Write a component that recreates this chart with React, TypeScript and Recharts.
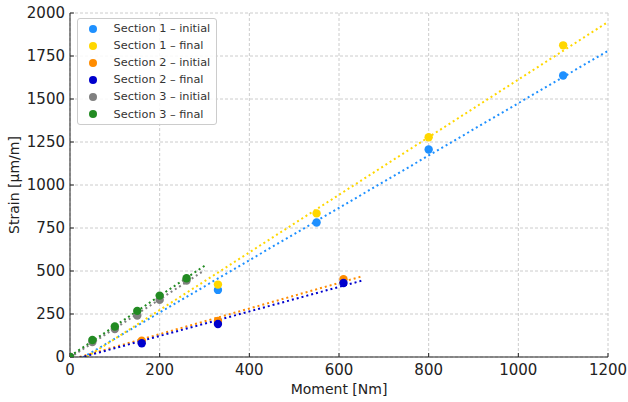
import { ComposedChart, Scatter, Line, XAxis, YAxis, CartesianGrid, Legend } from 'recharts';

const xTicks = [0, 200, 400, 600, 800, 1000, 1200];
const yTicks = [0, 250, 500, 750, 1000, 1250, 1500, 1750, 2000];

// measured points (moment in Nm, strain in µm/m)
const moments1 = [0, 330, 550, 800, 1100];
const s1Initial = [0, 390, 782, 1206, 1637];
const s1Final = [0, 421, 835, 1278, 1812];

const moments2 = [0, 160, 330, 610];
const s2Initial = [0, 95, 210, 452];
const s2Final = [0, 80, 192, 430];

const moments3 = [0, 50, 100, 150, 200, 260];
const s3Initial = [0, 87, 163, 241, 332, 445];
const s3Final = [0, 99, 177, 268, 357, 458];

// trend line ends [start, end]
const fitRange1 = [0, 1200];
const fit1Initial = [-46, 1780];
const fit1Final = [-62, 1948];
const fitRange2 = [0, 650];
const fit2Initial = [-16, 468];
const fit2Final = [-20, 443];
const fitRange3 = [0, 300];
const fit3Initial = [-3, 504];
const fit3Final = [5, 530];

const series = [
  { name: 'Section 1 – initial', color: '#1E90FF', xs: moments1, ys: s1Initial, fx: fitRange1, fy: fit1Initial },
  { name: 'Section 1 – final', color: '#FFD700', xs: moments1, ys: s1Final, fx: fitRange1, fy: fit1Final },
  { name: 'Section 2 – initial', color: '#FF8C00', xs: moments2, ys: s2Initial, fx: fitRange2, fy: fit2Initial },
  { name: 'Section 2 – final', color: '#0000CD', xs: moments2, ys: s2Final, fx: fitRange2, fy: fit2Final },
  { name: 'Section 3 – initial', color: '#808080', xs: moments3, ys: s3Initial, fx: fitRange3, fy: fit3Initial },
  { name: 'Section 3 – final', color: '#228B22', xs: moments3, ys: s3Final, fx: fitRange3, fy: fit3Final },
];

const font = '"DejaVu Sans", sans-serif';

const LegendBox = () => (
  <div
    style={{
      border: '1px solid #cccccc',
      borderRadius: 3,
      background: 'rgba(255,255,255,0.85)',
      padding: '1px 6px 1px 0',
      fontFamily: font,
      fontSize: 11.3,
      color: '#333',
    }}
  >
    {series.map((s) => (
      <div key={s.name} style={{ display: 'flex', alignItems: 'center', height: 17.1, whiteSpace: 'nowrap' }}>
        <svg width={8} height={8} style={{ marginLeft: 10.6, marginRight: 17 }}>
          <circle cx={4} cy={4} r={4} fill={s.color} />
        </svg>
        <span>{s.name}</span>
      </div>
    ))}
  </div>
);

export default function App() {
  return (
    <div style={{ position: 'absolute', left: 0, top: 0, background: '#fff' }}>
      <ComposedChart width={628} height={402} margin={{ top: 13, right: 20, left: 0, bottom: 0 }}>
        <CartesianGrid stroke="#cccccc" strokeDasharray="3 2" />
        <XAxis
          type="number"
          dataKey="x"
          domain={[0, 1200]}
          ticks={xTicks}
          allowDataOverflow
          height={45}
          tickSize={-4}
          tickMargin={11}
          stroke="#222"
          tick={{ fill: '#222', fontSize: 15, fontFamily: font }}
          label={{ value: 'Moment [Nm]', position: 'insideBottom', offset: 8, fill: '#222', fontSize: 14, fontFamily: font }}
        />
        <YAxis
          type="number"
          dataKey="y"
          domain={[0, 2000]}
          ticks={yTicks}
          allowDataOverflow
          width={70}
          tickSize={-4}
          tickMargin={9}
          stroke="#222"
          tick={{ fill: '#222', fontSize: 15, fontFamily: font }}
          label={{
            position: 'center',
            content: (props: any) => {
              const vb = props.viewBox || {};
              const cy = (vb.y || 0) + (vb.height || 0) / 2;
              return (
                <text
                  x={14}
                  y={cy}
                  transform={`rotate(-90 14 ${cy})`}
                  textAnchor="middle"
                  dominantBaseline="central"
                  fill="#222"
                  fontSize={14}
                  fontFamily={font}
                >
                  Strain [µm/m]
                </text>
              );
            },
          }}
        />
        <Legend
          layout="vertical"
          align="center"
          verticalAlign="middle"
          wrapperStyle={{ left: 77, top: 18, width: 'auto' }}
          content={() => <LegendBox />}
        />
        {series.map((s) => (
          <Line
            key={'fit-' + s.name}
            data={s.fx.map((x, i) => ({ x, y: s.fy[i] }))}
            dataKey="y"
            type="linear"
            stroke={s.color}
            strokeWidth={2}
            strokeDasharray="2 3"
            dot={false}
            activeDot={false}
            legendType="none"
            isAnimationActive={false}
          />
        ))}
        {series.map((s) => (
          <Scatter
            key={s.name}
            name={s.name}
            data={s.xs.map((x, i) => ({ x, y: s.ys[i] }))}
            dataKey="y"
            fill={s.color}
            shape={(p: any) => <circle cx={p.cx} cy={p.cy} r={4.2} fill={s.color} />}
            isAnimationActive={false}
          />
        ))}
      </ComposedChart>
    </div>
  );
}
